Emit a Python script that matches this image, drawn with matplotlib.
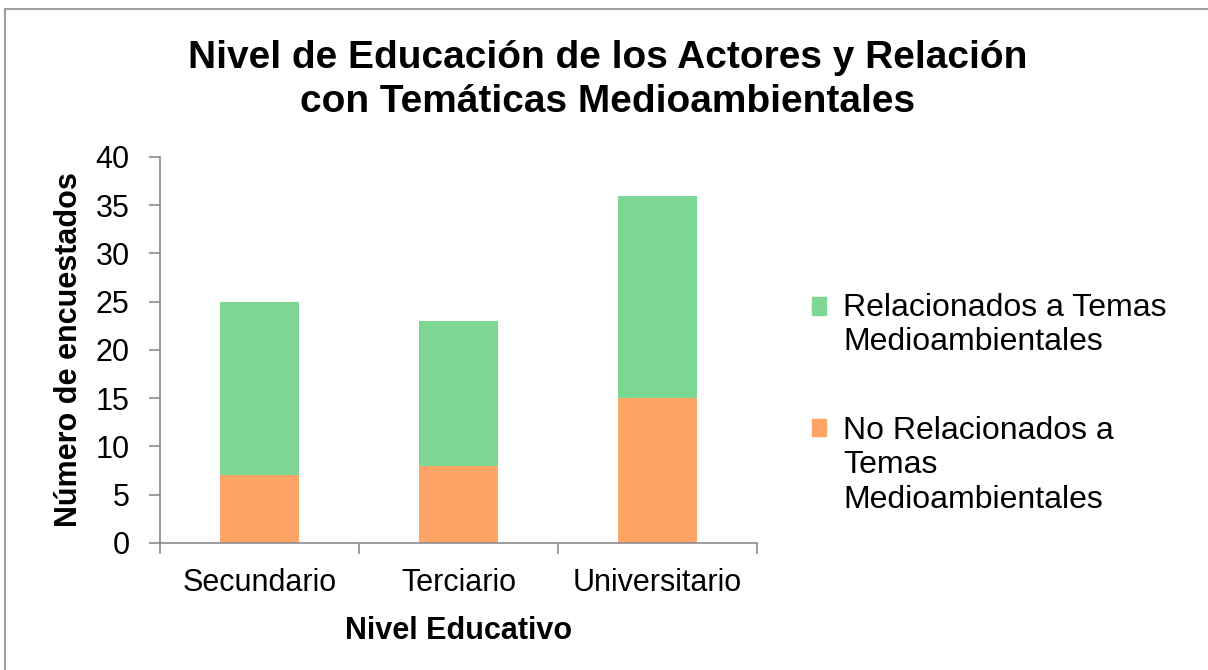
import matplotlib
matplotlib.use('Agg')
import matplotlib.pyplot as plt
import matplotlib.patches as mpatches
from matplotlib.legend_handler import HandlerPatch
import numpy as np

plt.rcParams['font.family'] = ['Liberation Sans', 'DejaVu Sans']

categories = ['Secundario', 'Terciario', 'Universitario']
no_relacionados = [7, 8, 15]
relacionados = [18, 15, 21]
series_labels = ['Relacionados a Temas\nMedioambientales',
                 'No Relacionados a\nTemas\nMedioambientales']

GREEN = '#7DD794'
ORANGE = '#FDA466'
AXIS_GREY = '#8C8C8C'

fig = plt.figure(figsize=(12.08, 6.70), dpi=100)
ax = fig.add_axes([0.1325, 0.1896, 0.4942, 0.5761])

x = np.arange(len(categories))
ax.bar(x, no_relacionados, width=0.4, color=ORANGE)
ax.bar(x, relacionados, width=0.4, bottom=no_relacionados, color=GREEN)

ax.set_xlim(-0.5, len(categories) - 0.5)
ax.set_ylim(0, 40)
ax.set_yticks(range(0, 41, 5))
ax.set_xticks(x)
ax.set_xticklabels(categories, fontsize=22)
ax.set_xticks(np.arange(-0.5, len(categories)), minor=True)
ax.tick_params(axis='x', which='major', length=0, pad=18)
ax.tick_params(axis='x', which='minor', length=8, color=AXIS_GREY, width=1.2)
ax.tick_params(axis='y', labelsize=22, length=8, color=AXIS_GREY, width=1.2, pad=14)

for s in ['top', 'right']:
    ax.spines[s].set_visible(False)
for s in ['left', 'bottom']:
    ax.spines[s].set_color(AXIS_GREY)
    ax.spines[s].set_linewidth(1.2)

ax.set_xlabel('Nivel Educativo', fontsize=22, fontweight='bold', labelpad=13)
ax.set_ylabel('Número de encuestados', fontsize=22, fontweight='bold', labelpad=8)

fig.suptitle('Nivel de Educación de los Actores y Relación\ncon Temáticas Medioambientales',
             fontsize=28, fontweight='bold', x=0.503, y=0.94, linespacing=1.28)


# legend squares sit next to the first line of each (multi-line) label
def top_square(n_lines):
    def f(legend, orig_handle, xdescent, ydescent, width, height, fontsize):
        shift = 0.6 * (n_lines - 1) * fontsize
        return mpatches.Rectangle((-xdescent, -ydescent + shift), width, height)
    return f


handles = [mpatches.Patch(color=GREEN), mpatches.Patch(color=ORANGE)]
handler_map = {h: HandlerPatch(patch_func=top_square(lbl.count('\n') + 1))
               for h, lbl in zip(handles, series_labels)}
fig.legend(handles, series_labels, loc='upper left', bbox_to_anchor=(0.648, 0.606),
           frameon=False, fontsize=23, handlelength=0.45, handleheight=0.45,
           handletextpad=0.55, labelspacing=1.83, handler_map=handler_map)

# border around figure (left and top visible)
fig.add_artist(plt.Line2D([0.0045, 0.0045], [0, 0.987], color='#A0A0A0', lw=1.5,
                          transform=fig.transFigure))
fig.add_artist(plt.Line2D([0.0045, 1], [0.987, 0.987], color='#A0A0A0', lw=1.5,
                          transform=fig.transFigure))

fig.savefig('out.png', dpi=100)
